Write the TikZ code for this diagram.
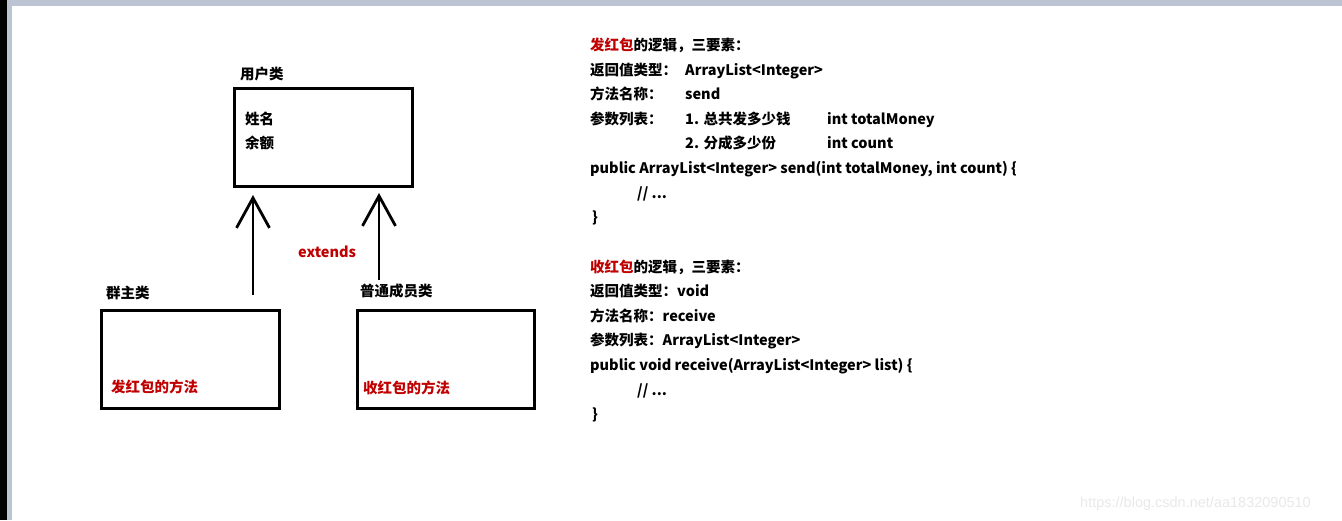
\documentclass[tikz,border=0pt]{standalone}
\usepackage{fontspec}
\setmainfont{Noto Sans CJK SC}
\newfontfamily\wmfont{Liberation Sans}
\usetikzlibrary{arrows.meta}
\definecolor{hongse}{RGB}{192,0,0}
\definecolor{rahmen}{RGB}{188,196,212}
\definecolor{shuiyin}{RGB}{232,232,232}
\tikzset{
  classbox/.style={draw,line width=2.8pt,inner sep=0pt,anchor=north west},
  txt/.style={anchor=base west,inner sep=0pt,font=\bfseries\fontsize{14.5}{17}\selectfont},
  inherit/.style={line width=2.8pt,-{Straight Barb[length=30pt,width=33pt,line width=2.8pt]}}
}
\begin{document}
\begin{tikzpicture}[x=1pt,y=-1pt]
\useasboundingbox (0,0) rectangle (1342,520);
% window frame
\fill[black] (0,0) rectangle (7,520);
\fill[rahmen] (7,0) rectangle (1342,6);
\fill[rahmen] (7,6) rectangle (12,520);
% classes
\node[classbox,minimum width=178pt,minimum height=98pt] (user) at (233,87) {};
\node[txt] (userlbl) at (240,79.5) {用户类};
\node[txt] (name) at (245,124.5) {姓名};
\node[txt] (balance) at (245,148.5) {余额};
\node[classbox,minimum width=178pt,minimum height=98pt] (owner) at (100,309) {};
\node[txt] (ownerlbl) at (106,298.5) {群主类};
\node[txt,text=hongse] (sendm) at (111,392.5) {发红包的方法};
\node[classbox,minimum width=177pt,minimum height=98pt] (member) at (356,309) {};
\node[txt] (memberlbl) at (360,296.5) {普通成员类};
\node[txt,text=hongse] (recvm) at (363,393.5) {收红包的方法};
% extends
\coordinate (ownerTail) at (253,295);
\coordinate (ownerHead) at (253,195);
\coordinate (memberTail) at (379,280);
\coordinate (memberHead) at (379,193);
\draw[inherit] (ownerTail) -- (ownerHead);
\draw[inherit] (memberTail) -- (memberHead);
\node[txt,text=hongse] (ext) at (298,257) {extends};
% send
\node[txt] (s1) at (590,50.5) {\textcolor{hongse}{发红包}的逻辑，三要素：};
\node[txt] (s2) at (590,75.5) {返回值类型：};
\node[txt] (s2b) at (685,75.5) {ArrayList<Integer>};
\node[txt] (s3) at (590,99.5) {方法名称：};
\node[txt] (s3b) at (685,99.5) {send};
\node[txt] (s4) at (590,124.5) {参数列表：};
\node[txt] (s4b) at (685,124.5) {1. 总共发多少钱};
\node[txt] (s4c) at (827,124.5) {int totalMoney};
\node[txt] (s5b) at (685,148.5) {2. 分成多少份};
\node[txt] (s5c) at (827,148.5) {int count};
\node[txt] (s6) at (590,173.5) {public ArrayList<Integer> send(int totalMoney, int count) \{};
\node[txt] (s7) at (637,198.5) {// ...};
\node[txt] (s8) at (592,222.5) {\}};
% receive
\node[txt] (r1) at (590,272.5) {\textcolor{hongse}{收红包}的逻辑，三要素：};
\node[txt] (r2) at (590,296.5) {返回值类型：void};
\node[txt] (r3) at (590,321.5) {方法名称：receive};
\node[txt] (r4) at (590,345.5) {参数列表：ArrayList<Integer>};
\node[txt] (r5) at (590,370.5) {public void receive(ArrayList<Integer> list) \{};
\node[txt] (r6) at (637,395.5) {// ...};
\node[txt] (r7) at (592,419.5) {\}};
\node[anchor=base west,inner sep=0pt,text=shuiyin,font=\wmfont\fontsize{14.5}{17}\selectfont] (wm) at (1080,507) {https://blog.csdn.net/aa1832090510};
\end{tikzpicture}
\end{document}
